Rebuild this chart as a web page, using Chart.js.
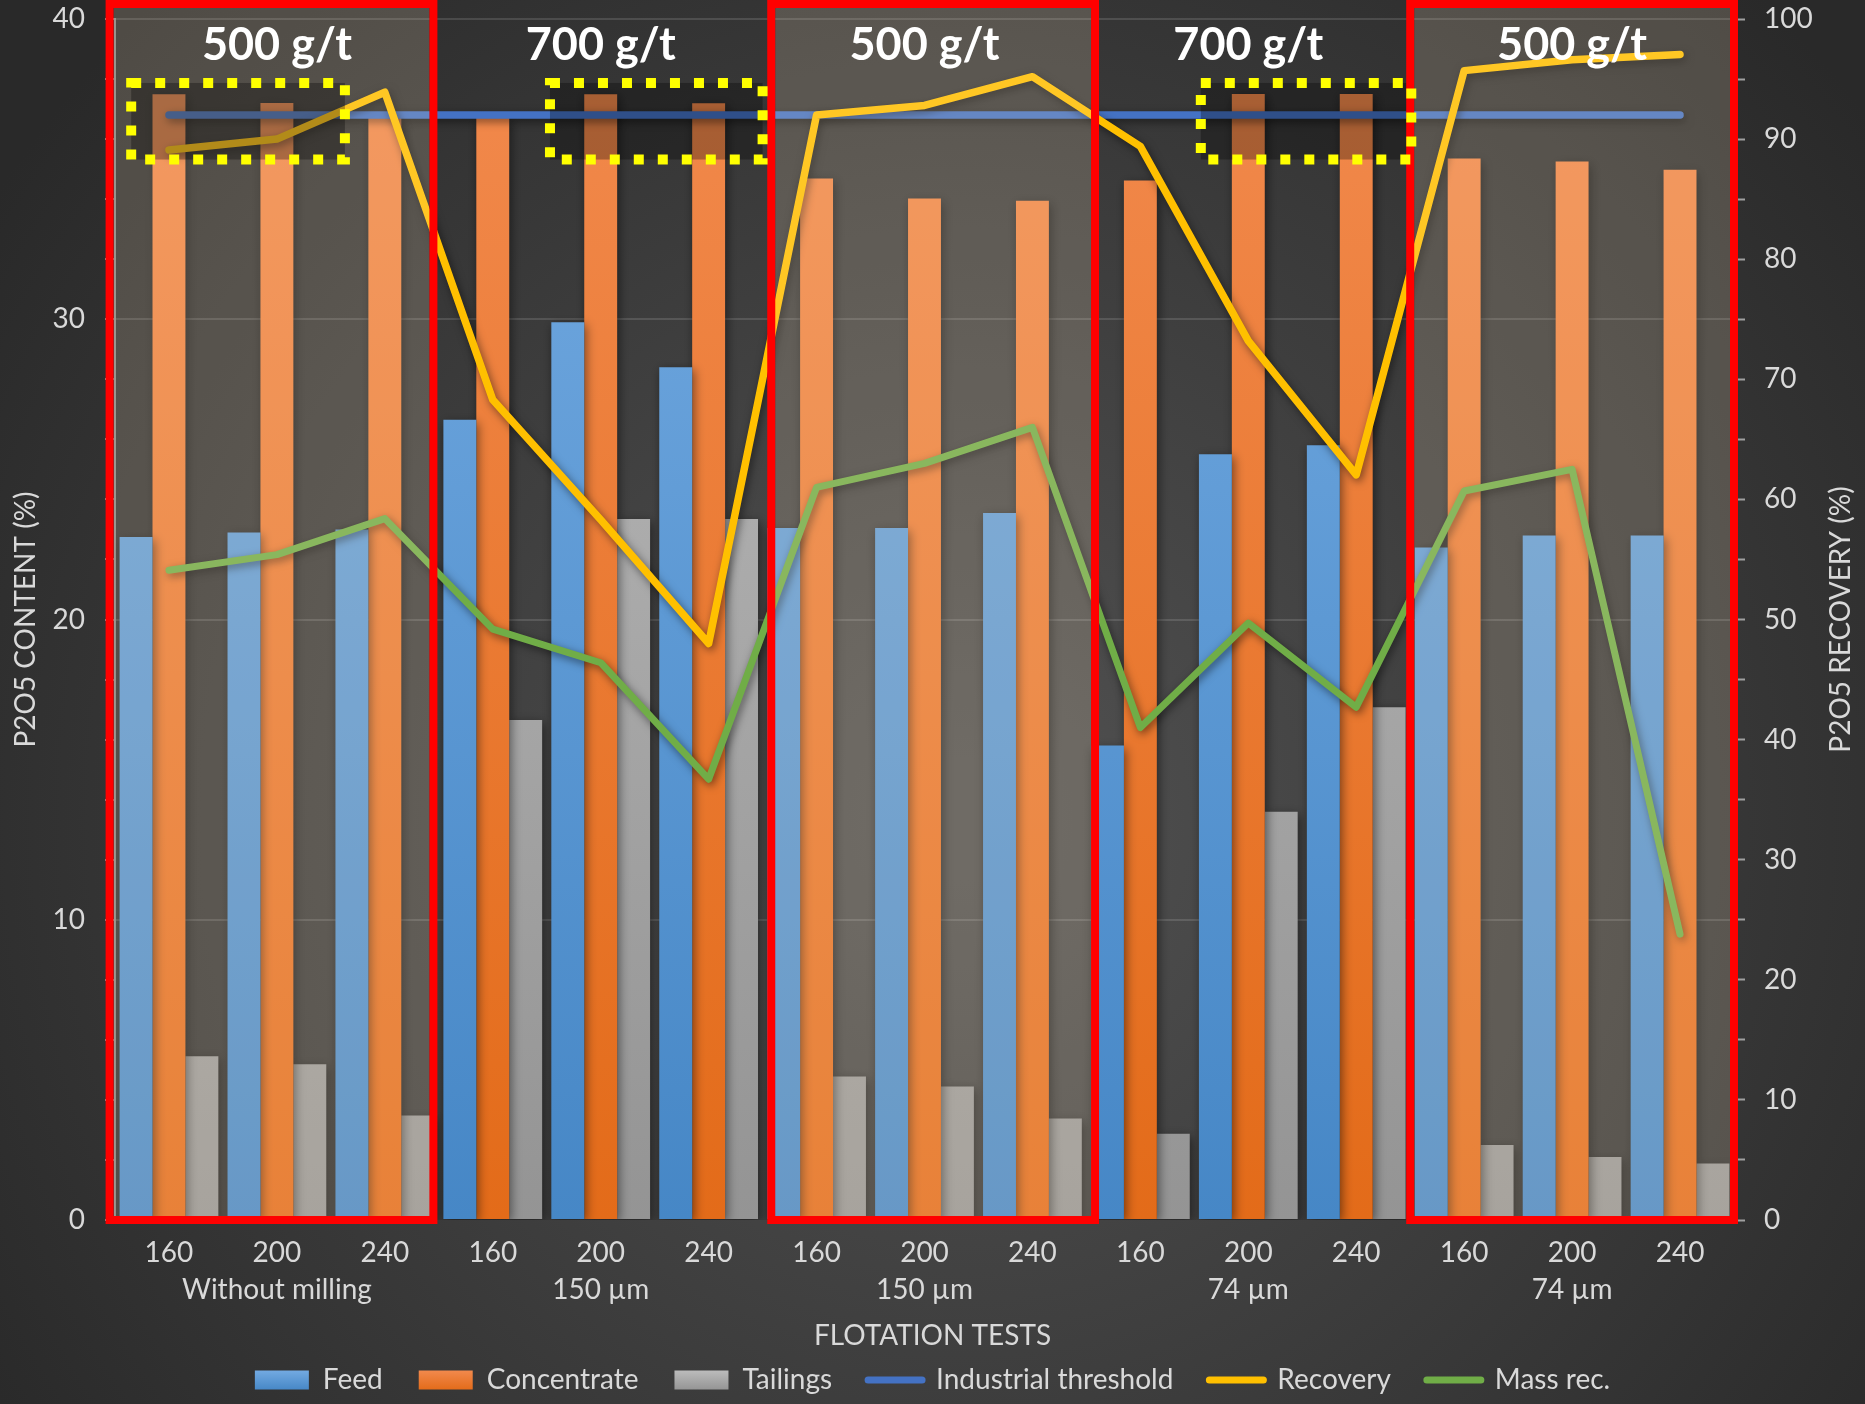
<!DOCTYPE html>
<html>
<head>
<meta charset="utf-8">
<title>Flotation tests – P2O5 content and recovery</title>
<script src="https://cdn.jsdelivr.net/npm/chart.js@4.4.1/dist/chart.umd.min.js"></script>
<style>
  html, body { margin: 0; padding: 0; background: #2b2b2b; }
  #wrap { width: 1865px; height: 1404px; }
  canvas { display: block; }
</style>
</head>
<body>
<div id="wrap"><canvas id="chart" width="1865" height="1404"></canvas></div>
<script>
// Collector dosage (g/t) of each flotation test
const dosages = ['160', '200', '240', '160', '200', '240', '160', '200', '240', '160', '200', '240', '160', '200', '240'];
// Grinding condition of each block of three tests
const grindGroups = ['Without milling', '150 µm', '150 µm', '74 µm', '74 µm'];
// Dosage written above each block
const blockDoses = ['500 g/t', '700 g/t', '500 g/t', '700 g/t', '500 g/t'];

// P2O5 content (%) – left axis
const feed        = [22.75, 22.9, 23.0, 26.65, 29.9, 28.4, 23.05, 23.05, 23.55, 15.8, 25.5, 25.8, 22.4, 22.8, 22.8];
const concentrate = [37.49, 37.2, 36.7, 36.7, 37.49, 37.19, 34.69, 34.02, 33.95, 34.62, 37.5, 37.5, 35.35, 35.25, 34.98];
const tailings    = [5.45, 5.19, 3.48, 16.65, 23.35, 23.35, 4.78, 4.45, 3.38, 2.87, 13.6, 17.08, 2.5, 2.1, 1.88];
const industrialThreshold = [36.8, 36.8, 36.8, 36.8, 36.8, 36.8, 36.8, 36.8, 36.8, 36.8, 36.8, 36.8, 36.8, 36.8, 36.8];

// P2O5 recovery (%) – right axis
const recovery = [89.1, 90.0, 93.9, 68.3, 58.3, 48.0, 92.0, 92.8, 95.2, 89.4, 73.2, 62.05, 95.7, 96.6, 97.05];
const massRec  = [54.1, 55.4, 58.4, 49.2, 46.4, 36.7, 61.0, 63.0, 66.0, 41.0, 49.7, 42.7, 60.7, 62.5, 23.8];

// Annotation frames, in category units (0 = first test) and left-axis units
const frameSpans  = [[-0.55, 2.45], [5.58, 8.58], [11.5, 14.5]];
const dottedSpans = [[-0.35, 1.63], [3.53, 5.5], [9.56, 11.51]];
const dottedRange = [35.32, 37.87];

const FONT = 'Lato';
const TEXT = '#d9d9d9';

const palette = {
  feed: ['#74abe2', '#4687c6'],
  conc: ['#f28a4e', '#e36b19'],
  tail: ['#bdbdbd', '#949494']
};

function vGrad(ctx, y0, y1, stops) {
  const g = ctx.createLinearGradient(0, y0, 0, y1);
  g.addColorStop(0, stops[0]);
  g.addColorStop(1, stops[1]);
  return g;
}

function barFill(key) {
  return (c) => {
    const a = c.chart.chartArea;
    if (!a) return palette[key][1];
    return vGrad(c.chart.ctx, a.top, a.bottom, palette[key]);
  };
}

// Vertical axes: keep their tick labels from pushing the plot area down
function fixedWidth(w) {
  return (s) => {
    s.width = w;
    s.paddingTop = 0;
    s.paddingBottom = 0;
  };
}

// Dark radial backdrop behind everything
const backdrop = {
  id: 'backdrop',
  beforeDraw(chart) {
    const { ctx, width, height } = chart;
    const g = ctx.createRadialGradient(960, 820, 60, 960, 820, 1150);
    g.addColorStop(0, '#505050');
    g.addColorStop(1, '#292929');
    ctx.save();
    ctx.fillStyle = g;
    ctx.fillRect(0, 0, width, height);
    ctx.restore();
  }
};

// Soft drop shadow under bars and lines
const softShadow = {
  id: 'softShadow',
  beforeDatasetDraw(chart, args) {
    const c = chart.ctx;
    c.save();
    const isLine = args.meta.type === 'line';
    c.shadowColor = 'rgba(0,0,0,0.5)';
    c.shadowBlur = isLine ? 8 : 10;
    c.shadowOffsetX = 2;
    c.shadowOffsetY = 3;
  },
  afterDatasetDraw(chart) {
    chart.ctx.restore();
  }
};

// Highlight frames, dotted boxes and block captions
const frames = {
  id: 'frames',
  afterDatasetsDraw(chart) {
    const { ctx, scales: { x, y } } = chart;
    const x0 = x.getPixelForValue(0);
    const cw = x.getPixelForValue(1) - x0;
    const xAt = (v) => x0 + v * cw;
    const top = 4;
    const bottom = y.getPixelForValue(0);
    const fw = 8;

    ctx.save();
    // light veil inside the red frames
    ctx.fillStyle = 'rgba(255,235,200,0.18)';
    frameSpans.forEach(([a, b]) => {
      const l = xAt(a), r = xAt(b);
      ctx.fillRect(l + fw / 2, top + fw / 2, r - l - fw, bottom - top - fw);
    });

    // darkened dotted boxes
    const dTop = y.getPixelForValue(dottedRange[1]);
    const dBot = y.getPixelForValue(dottedRange[0]);
    ctx.fillStyle = 'rgba(0,0,0,0.3)';
    dottedSpans.forEach(([a, b]) => {
      ctx.fillRect(xAt(a), dTop, xAt(b) - xAt(a), dBot - dTop);
    });

    // red frames
    ctx.strokeStyle = '#ff0000';
    ctx.lineWidth = fw;
    ctx.lineJoin = 'miter';
    frameSpans.forEach(([a, b]) => {
      ctx.strokeRect(xAt(a), top, xAt(b) - xAt(a), bottom - top);
    });

    // yellow dotted outlines
    ctx.strokeStyle = '#ffff00';
    ctx.lineWidth = 10;
    ctx.setLineDash([10, 14]);
    dottedSpans.forEach(([a, b]) => {
      ctx.strokeRect(xAt(a), dTop, xAt(b) - xAt(a), dBot - dTop);
    });
    ctx.setLineDash([]);

    // block captions
    ctx.font = `bold 45px ${FONT}`;
    ctx.fillStyle = '#ffffff';
    ctx.textAlign = 'center';
    ctx.textBaseline = 'alphabetic';
    blockDoses.forEach((t, g) => {
      ctx.fillText(t, x.getPixelForValue(3 * g + 1), 60);
    });
    ctx.restore();
  },
  afterDraw(chart) {
    const { ctx, chartArea, scales: { x } } = chart;
    ctx.save();
    ctx.font = `28px ${FONT}`;
    ctx.fillStyle = TEXT;
    ctx.textAlign = 'center';
    ctx.textBaseline = 'middle';
    grindGroups.forEach((t, g) => {
      ctx.fillText(t, x.getPixelForValue(3 * g + 1), chartArea.bottom + 70);
    });
    ctx.fillText('FLOTATION TESTS', chart.width / 2, chartArea.bottom + 116);

    const midY = (chartArea.top + chartArea.bottom) / 2;
    ctx.save();
    ctx.translate(26, midY);
    ctx.rotate(-Math.PI / 2);
    ctx.fillText('P2O5 CONTENT (%)', 0, 0);
    ctx.restore();

    ctx.save();
    ctx.translate(1841, midY);
    ctx.rotate(-Math.PI / 2);
    ctx.fillText('P2O5 RECOVERY (%)', 0, 0);
    ctx.restore();
    ctx.restore();
  }
};

const lineCommon = {
  type: 'line',
  pointRadius: 0,
  pointHoverRadius: 0,
  tension: 0,
  borderCapStyle: 'round',
  borderJoinStyle: 'round',
  fill: false
};

const chart = new Chart(document.getElementById('chart'), {
  type: 'bar',
  data: {
    labels: dosages,
    datasets: [
      { label: 'Feed', data: feed, backgroundColor: barFill('feed'), yAxisID: 'y', order: 3,
        categoryPercentage: 0.915, barPercentage: 1.0 },
      { label: 'Concentrate', data: concentrate, backgroundColor: barFill('conc'), yAxisID: 'y', order: 3,
        categoryPercentage: 0.915, barPercentage: 1.0 },
      { label: 'Tailings', data: tailings, backgroundColor: barFill('tail'), yAxisID: 'y', order: 3,
        categoryPercentage: 0.915, barPercentage: 1.0 },
      Object.assign({ label: 'Industrial threshold', data: industrialThreshold, borderColor: '#4472c4',
        backgroundColor: '#4472c4', borderWidth: 7.5, yAxisID: 'y', order: 2 }, lineCommon),
      Object.assign({ label: 'Recovery', data: recovery, borderColor: '#ffc000',
        backgroundColor: '#ffc000', borderWidth: 7.5, yAxisID: 'y1', order: 0 }, lineCommon),
      Object.assign({ label: 'Mass rec.', data: massRec, borderColor: '#70ad47',
        backgroundColor: '#70ad47', borderWidth: 7, yAxisID: 'y1', order: 1 }, lineCommon)
    ]
  },
  options: {
    responsive: false,
    devicePixelRatio: 1,
    animation: false,
    layout: { padding: { top: 19, left: 0, right: 0, bottom: 0 } },
    plugins: {
      tooltip: { enabled: false },
      legend: {
        position: 'bottom',
        labels: {
          color: TEXT,
          font: { family: FONT, size: 28 },
          usePointStyle: true,
          pointStyleWidth: 54,
          boxHeight: 19,
          padding: 36,
          sort: (a, b) => a.datasetIndex - b.datasetIndex,
          generateLabels(ch) {
            const keys = ['feed', 'conc', 'tail'];
            return ch.data.datasets.map((ds, i) => {
              const isBar = i < 3;
              let fill = ds.borderColor;
              if (isBar) {
                const g = ch.ctx.createLinearGradient(0, 1370, 0, 1390);
                g.addColorStop(0, palette[keys[i]][0]);
                g.addColorStop(1, palette[keys[i]][1]);
                fill = g;
              }
              return {
                text: ds.label,
                datasetIndex: i,
                fillStyle: fill,
                strokeStyle: isBar ? 'rgba(0,0,0,0)' : ds.borderColor,
                lineWidth: isBar ? 0 : 7,
                lineCap: 'round',
                pointStyle: isBar ? 'rect' : 'line',
                fontColor: TEXT,
                hidden: false
              };
            });
          }
        }
      }
    },
    scales: {
      x: {
        offset: true,
        grid: { display: false, drawTicks: false },
        border: { display: false },
        ticks: { color: TEXT, font: { family: FONT, size: 28 }, padding: 16, autoSkip: false, maxRotation: 0 },
        afterFit(s) { s.height = 110; }
      },
      y: {
        type: 'linear',
        position: 'left',
        min: 0,
        max: 40,
        ticks: {
          stepSize: 2,
          autoSkip: false,
          color: TEXT,
          font: { family: FONT, size: 28 },
          padding: 20,
          callback: (v) => (v % 10 === 0 ? String(v) : '')
        },
        grid: {
          color: (c) => (c.tick && c.tick.value % 10 === 0 && c.tick.value > 0) ? 'rgba(255,255,255,0.13)' : 'rgba(0,0,0,0)',
          lineWidth: 2,
          drawTicks: true,
          tickLength: 10,
          tickColor: '#a0a0a0',
          tickWidth: 2
        },
        border: { display: true, color: 'rgba(200,200,200,0.55)', width: 2 },
        afterFit: fixedWidth(115)
      },
      y1: {
        type: 'linear',
        position: 'right',
        min: 0,
        max: 100,
        ticks: {
          stepSize: 5,
          autoSkip: false,
          color: TEXT,
          font: { family: FONT, size: 28 },
          padding: 19,
          callback: (v) => (v % 10 === 0 ? String(v) : '')
        },
        grid: {
          drawOnChartArea: false,
          drawTicks: true,
          tickLength: 11,
          tickColor: '#a0a0a0',
          tickWidth: 2
        },
        border: { display: false },
        afterFit: fixedWidth(131)
      }
    }
  },
  plugins: [backdrop, softShadow, frames]
});
</script>
</body>
</html>
